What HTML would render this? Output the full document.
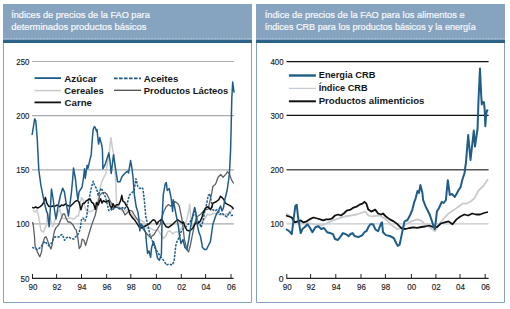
<!DOCTYPE html>
<html><head><meta charset="utf-8"><style>
html,body{margin:0;padding:0;background:#fff;width:510px;height:309px;overflow:hidden}
svg{display:block}
text{font-family:"Liberation Sans", sans-serif}
</style></head><body>
<svg width="510" height="309" viewBox="0 0 510 309">
<rect x="3" y="4" width="249" height="39" fill="#86a3bf"/>
<line x1="4" y1="38.5" x2="252" y2="38.5" stroke="#a8bdd1" stroke-width="1" stroke-dasharray="2,1"/>
<rect x="3" y="42" width="249" height="1" fill="#245a80"/>
<rect x="3" y="40" width="249" height="3" fill="#2e6388"/>
<path d="M3.5,43 V302.5 H251.5 V43" fill="none" stroke="#84a2c4" stroke-width="1"/>
<rect x="256" y="4" width="249" height="39" fill="#86a3bf"/>
<line x1="257" y1="38.5" x2="505" y2="38.5" stroke="#a8bdd1" stroke-width="1" stroke-dasharray="2,1"/>
<rect x="256" y="42" width="249" height="1" fill="#245a80"/>
<rect x="256" y="40" width="249" height="3" fill="#2e6388"/>
<path d="M256.5,43 V302.5 H504.5 V43" fill="none" stroke="#84a2c4" stroke-width="1"/>
<text x="11.200000000000001" y="17.8" font-size="9.2" fill="#f6f8fb" stroke="#f6f8fb" stroke-width="0.22" textLength="138.59999999999997" lengthAdjust="spacingAndGlyphs">Índices de precios de la FAO para</text>
<text x="11.200000000000001" y="30.3" font-size="9.2" fill="#f6f8fb" stroke="#f6f8fb" stroke-width="0.22" textLength="135.2" lengthAdjust="spacingAndGlyphs">determinados productos básicos</text>
<text x="264.7" y="17.8" font-size="9.2" fill="#f6f8fb" stroke="#f6f8fb" stroke-width="0.22" textLength="199.89999999999998" lengthAdjust="spacingAndGlyphs">Índice de precios de la FAO para los alimentos e</text>
<text x="264.7" y="30.3" font-size="9.2" fill="#f6f8fb" stroke="#f6f8fb" stroke-width="0.22" textLength="211.0" lengthAdjust="spacingAndGlyphs">índices CRB para los productos básicos y la energía</text>
<line x1="32" y1="61.5" x2="234" y2="61.5" stroke="#a9abae" stroke-width="1.2"/>
<text x="29.4" y="64.9" font-size="9.3" text-anchor="end" fill="#1a1a1a" stroke="#1a1a1a" stroke-width="0.15" textLength="13.099999999999998" lengthAdjust="spacingAndGlyphs">250</text>
<line x1="32" y1="115.6" x2="234" y2="115.6" stroke="#a9abae" stroke-width="1.2"/>
<text x="29.4" y="119.0" font-size="9.3" text-anchor="end" fill="#1a1a1a" stroke="#1a1a1a" stroke-width="0.15" textLength="13.099999999999998" lengthAdjust="spacingAndGlyphs">200</text>
<line x1="32" y1="169.8" x2="234" y2="169.8" stroke="#a9abae" stroke-width="1.2"/>
<text x="29.4" y="173.2" font-size="9.3" text-anchor="end" fill="#1a1a1a" stroke="#1a1a1a" stroke-width="0.15" textLength="13.099999999999998" lengthAdjust="spacingAndGlyphs">150</text>
<line x1="32" y1="223.9" x2="234" y2="223.9" stroke="#a9abae" stroke-width="1.2"/>
<text x="29.4" y="227.3" font-size="9.3" text-anchor="end" fill="#1a1a1a" stroke="#1a1a1a" stroke-width="0.15" textLength="13.099999999999998" lengthAdjust="spacingAndGlyphs">100</text>
<text x="29.4" y="281.8" font-size="9.3" text-anchor="end" fill="#1a1a1a" stroke="#1a1a1a" stroke-width="0.15" textLength="8.9" lengthAdjust="spacingAndGlyphs">50</text>
<line x1="286.5" y1="61.6" x2="488.6" y2="61.6" stroke="#111" stroke-width="1.3"/>
<text x="283.6" y="65.0" font-size="9.3" text-anchor="end" fill="#1a1a1a" stroke="#1a1a1a" stroke-width="0.15" textLength="13.099999999999998" lengthAdjust="spacingAndGlyphs">400</text>
<line x1="286.5" y1="115.4" x2="488.6" y2="115.4" stroke="#111" stroke-width="1.3"/>
<text x="283.6" y="118.8" font-size="9.3" text-anchor="end" fill="#1a1a1a" stroke="#1a1a1a" stroke-width="0.15" textLength="13.099999999999998" lengthAdjust="spacingAndGlyphs">300</text>
<line x1="286.5" y1="169.7" x2="488.6" y2="169.7" stroke="#555" stroke-width="1.6"/>
<text x="283.6" y="173.1" font-size="9.3" text-anchor="end" fill="#1a1a1a" stroke="#1a1a1a" stroke-width="0.15" textLength="13.099999999999998" lengthAdjust="spacingAndGlyphs">200</text>
<line x1="286.5" y1="223.9" x2="488.6" y2="223.9" stroke="#b4bcc4" stroke-width="1"/>
<text x="283.6" y="227.3" font-size="9.3" text-anchor="end" fill="#1a1a1a" stroke="#1a1a1a" stroke-width="0.15" textLength="13.099999999999998" lengthAdjust="spacingAndGlyphs">100</text>
<text x="283.6" y="281.8" font-size="9.3" text-anchor="end" fill="#1a1a1a" stroke="#1a1a1a" stroke-width="0.15" textLength="4.8" lengthAdjust="spacingAndGlyphs">0</text>
<polyline points="32.7,210.3 35.0,212.0 37.0,210.0 38.6,216.2 39.8,223.2 40.9,230.3 43.3,232.1 45.0,228.0 46.8,225.0 47.4,213.8 50.0,218.0 52.7,226.8 55.0,220.0 57.4,213.8 59.8,209.0 62.0,218.0 66.0,219.0 70.0,218.0 74.0,219.0 77.0,216.0 78.5,216.0 80.3,203.5 81.5,197.6 83.2,200.0 84.4,204.7 85.6,209.4 88.0,212.0 92.0,211.0 96.2,208.2 98.5,197.6 100.3,187.0 102.1,181.2 104.0,177.0 105.9,173.5 107.5,163.0 108.8,158.0 110.0,145.0 110.9,137.6 112.4,148.2 114.1,156.0 115.3,173.5 116.5,201.2 118.0,205.0 121.0,210.0 124.0,212.0 127.0,210.0 130.0,212.0 133.0,216.0 136.0,219.0 140.0,220.0 144.0,222.0 146.2,228.0 149.1,227.9 153.8,230.2 158.0,230.0 163.2,238.5 165.6,236.1 168.0,231.4 170.0,231.0 172.6,233.8 175.0,232.0 179.0,231.8 183.0,225.9 186.0,222.0 188.5,212.0 189.8,204.2 190.6,216.8 192.0,226.0 194.0,224.0 197.0,222.0 200.0,222.0 204.0,220.0 207.5,214.0 210.0,215.0 214.1,213.2 218.0,214.0 220.0,214.4 224.0,215.0 226.0,214.0 229.4,213.2 231.8,210.0 233.5,207.0" fill="none" stroke="#c9cacc" stroke-width="1.5" stroke-linejoin="round"/>
<polyline points="32.5,222.0 33.3,225.0 34.5,236.8 35.1,246.2 36.2,248.5 37.4,252.1 39.8,256.8 41.5,252.1 42.7,243.8 44.5,237.9 46.2,236.8 47.4,240.3 49.2,245.0 50.9,249.1 52.1,245.0 53.3,236.8 54.5,230.9 56.2,227.4 58.6,225.0 61.0,219.0 63.0,214.0 64.5,213.8 66.0,218.0 68.0,222.0 70.0,222.0 72.7,224.4 75.1,229.0 76.2,229.7 78.0,239.1 79.2,248.5 80.9,246.2 82.1,239.1 83.9,240.3 85.6,245.6 87.4,239.1 90.8,227.8 92.7,222.0 95.0,216.0 97.9,203.5 99.7,195.3 102.1,192.9 104.4,192.4 106.8,194.1 109.1,198.8 111.5,203.5 113.8,208.2 116.0,207.0 118.0,208.0 120.0,208.0 122.4,209.4 125.0,215.0 127.0,213.0 129.7,210.3 132.0,211.0 134.4,215.0 136.8,218.5 139.1,222.1 141.0,225.0 143.2,229.0 146.8,233.8 150.3,237.3 153.8,234.9 157.4,229.0 160.3,224.4 161.5,218.5 163.8,211.5 166.2,206.8 168.5,204.4 170.9,206.2 173.0,204.0 175.0,201.5 177.4,203.2 179.1,205.6 180.9,213.8 182.6,223.2 184.4,239.6 186.8,249.0 188.5,252.0 190.3,245.5 192.6,233.8 194.4,225.5 196.0,219.0 198.0,216.0 201.0,214.0 204.5,210.0 208.2,209.1 210.0,200.9 211.8,192.6 212.9,186.2 215.3,184.4 216.1,182.7 218.0,177.3 220.8,174.5 223.1,177.3 225.9,174.1 227.5,171.8 229.4,173.7 231.4,179.6 233.7,183.5" fill="none" stroke="#5d6166" stroke-width="1.3" stroke-linejoin="round"/>
<polyline points="32.1,247.4 35.0,248.5 37.4,249.7 39.8,247.9 41.5,246.0 43.3,243.2 45.1,241.5 46.8,243.8 48.6,245.6 50.4,244.0 52.1,242.6 53.3,239.1 55.1,236.8 57.5,237.0 59.3,236.8 60.9,235.0 62.0,234.5 63.3,236.8 64.5,240.3 66.3,238.0 68.6,236.8 70.9,238.5 73.9,239.1 75.6,236.8 77.4,235.6 79.2,232.1 80.4,227.4 81.4,220.0 83.0,218.0 85.0,221.0 86.8,216.0 88.2,203.5 90.0,194.1 91.8,185.9 93.2,181.2 94.7,185.9 96.5,188.2 98.2,195.3 99.5,192.0 101.2,188.2 102.3,190.0 103.5,194.1 105.3,196.5 107.0,203.5 108.8,210.6 110.5,209.0 112.4,210.6 114.0,208.0 117.6,207.0 119.5,209.0 122.4,207.6 124.5,209.0 127.0,204.7 128.5,198.5 129.4,195.3 131.8,192.9 134.1,190.6 135.9,178.7 137.0,183.0 137.8,186.6 139.8,188.5 141.8,187.5 142.8,188.5 143.7,194.4 144.7,204.2 145.7,216.0 147.4,223.2 150.0,235.0 155.0,248.0 160.0,256.0 164.3,261.2 166.3,265.0 169.0,264.0 172.2,265.0 174.1,261.2 175.1,251.4 176.2,243.2 179.1,237.3 181.0,232.0 183.0,229.0 187.0,226.0 190.0,222.0 193.0,217.0 195.0,210.0 197.0,220.0 199.0,222.0 201.2,227.4 202.9,221.5 205.0,210.0 206.5,204.4 208.2,195.6 210.0,193.8 211.0,200.0 212.9,209.7 215.0,211.0 217.0,209.5 220.0,214.4 222.0,213.0 224.7,215.6 227.1,216.8 229.4,212.1 231.8,215.6 234.1,214.4" fill="none" stroke="#1f5d88" stroke-width="1.5" stroke-dasharray="2.4,1.2" stroke-linejoin="round"/>
<polyline points="32.1,207.4 34.0,208.0 35.6,206.8 37.5,208.0 39.8,206.8 42.1,205.0 43.9,202.1 45.4,197.4 46.8,203.2 48.6,206.2 50.4,206.8 52.5,206.0 55.0,206.2 57.4,205.0 59.8,206.8 61.5,205.0 63.3,205.6 65.6,203.8 67.5,205.5 70.4,206.2 72.7,204.0 75.1,201.5 77.4,200.3 79.0,202.0 80.9,209.7 82.7,203.8 84.5,203.0 85.9,201.2 88.0,200.0 90.0,198.8 91.8,202.4 93.5,203.5 95.3,209.4 96.5,202.4 98.2,205.0 99.4,201.8 100.6,198.8 102.0,203.0 103.5,200.6 105.3,202.0 107.0,201.2 108.8,200.6 110.0,205.9 111.8,208.2 113.0,203.5 114.7,207.0 116.5,204.7 118.8,204.7 120.6,200.6 121.8,195.3 122.9,201.2 124.7,202.4 126.5,205.9 128.2,208.2 129.7,213.8 132.1,217.4 134.4,219.7 136.8,223.2 139.1,226.8 141.5,227.9 143.8,226.8 146.0,225.5 148.5,224.4 150.9,222.1 153.2,219.7 155.0,220.5 156.8,224.4 158.5,221.5 160.3,220.3 162.0,219.5 163.8,223.2 166.2,226.8 168.5,227.4 170.9,225.6 173.2,223.8 175.5,221.5 177.9,219.7 180.0,221.5 182.6,223.2 183.5,222.0 185.3,227.4 187.1,230.3 189.4,230.9 191.2,229.7 192.9,227.9 194.7,224.4 196.5,222.6 198.0,223.5 200.0,221.5 201.8,217.9 203.5,212.0 205.3,208.5 207.1,206.8 208.8,207.5 210.6,209.7 212.4,205.0 212.9,203.2 214.5,202.5 216.5,201.5 218.8,199.7 220.6,196.2 222.4,197.9 224.1,199.7 225.3,203.2 227.6,204.4 230.0,205.6 231.8,206.8 233.5,209.1" fill="none" stroke="#111" stroke-width="1.5" stroke-linejoin="round"/>
<polyline points="32.1,135.0 34.7,118.8 35.8,120.8 37.3,140.0 38.8,170.0 40.8,184.6 42.7,194.4 44.7,204.0 46.7,212.0 47.4,212.6 49.2,226.8 51.5,189.0 53.0,198.0 54.5,210.0 56.0,219.0 58.0,207.0 60.3,196.0 62.6,188.2 64.4,191.8 66.2,203.5 68.5,216.0 71.5,191.8 72.6,180.0 73.5,168.0 75.6,180.0 76.8,191.8 77.9,200.0 79.1,191.8 82.1,187.0 83.2,180.0 84.5,168.8 85.3,178.2 87.1,165.3 88.0,168.2 90.0,159.4 91.2,154.7 92.4,137.6 93.2,129.4 94.4,126.5 95.5,128.2 96.5,131.2 97.0,129.4 97.6,135.3 98.6,144.1 99.8,137.6 100.6,141.2 101.4,143.5 102.4,149.4 102.9,168.8 105.3,164.1 108.8,153.0 110.0,160.6 111.2,173.5 112.4,164.1 113.5,154.7 114.7,163.0 116.5,174.7 117.6,181.8 120.0,181.8 121.8,177.0 123.5,174.7 125.9,172.4 127.6,171.2 128.5,173.0 130.6,160.6 131.8,167.6 133.0,176.8 134.3,194.4 136.2,206.8 137.9,212.1 138.8,218.0 139.8,230.8 141.0,224.0 143.0,226.0 145.7,232.7 146.7,245.5 147.6,253.3 149.0,251.0 150.6,257.3 151.6,247.5 153.5,241.6 155.5,248.0 157.5,258.2 159.4,260.2 161.4,254.3 162.1,218.5 163.3,194.4 165.3,183.6 166.3,182.6 167.3,190.5 169.2,188.5 171.2,198.3 172.6,211.5 173.2,199.7 176.8,218.5 178.5,226.8 179.5,235.7 181.0,243.5 183.0,239.6 184.9,247.5 186.9,249.4 188.8,239.6 190.8,225.9 191.8,220.3 193.5,212.1 194.7,207.4 195.9,213.2 197.1,223.8 198.8,232.1 200.6,236.8 202.5,247.5 204.5,249.4 206.5,249.5 208.4,245.5 210.4,241.6 211.8,232.0 212.9,224.0 214.0,221.0 215.3,217.0 216.5,214.0 217.6,212.1 218.5,212.0 219.4,208.5 220.6,206.0 222.0,211.0 223.5,208.0 224.5,201.0 227.2,190.0 229.4,174.0 230.6,150.0 231.2,125.0 231.8,98.5 232.7,82.0 234.1,92.6" fill="none" stroke="#1f5d88" stroke-width="1.5" stroke-linejoin="round"/>
<polyline points="286.0,213.5 290.0,216.0 293.8,221.4 297.5,222.5 303.6,223.3 309.0,223.3 315.4,224.3 321.3,225.3 327.1,223.3 333.0,220.4 338.9,218.4 344.8,216.5 350.7,215.5 356.5,214.5 362.4,212.5 365.4,211.6 368.3,215.5 372.0,216.5 378.1,215.5 380.0,215.5 385.9,219.4 391.8,225.3 397.6,229.2 401.5,228.2 405.5,224.3 411.4,221.4 417.3,219.4 421.0,220.4 425.1,224.3 431.0,228.2 434.9,231.2 438.8,224.3 444.7,217.5 448.6,213.5 454.5,209.6 458.4,206.7 462.4,203.7 466.3,203.7 470.2,201.8 472.4,200.0 474.1,198.8 478.2,191.0 484.1,185.1 488.0,179.2" fill="none" stroke="#c8cbce" stroke-width="1.8" stroke-linejoin="round"/>
<polyline points="286.0,215.5 288.9,216.5 291.8,217.5 294.8,222.4 297.7,221.4 300.7,220.4 303.6,222.4 306.5,221.4 309.5,219.4 313.4,217.5 317.3,218.5 320.3,219.4 323.2,220.4 326.2,219.4 329.1,219.4 332.0,218.5 335.0,215.5 338.0,214.5 340.9,215.5 343.8,213.5 346.7,210.6 350.7,209.6 353.6,207.6 356.5,206.7 359.5,204.7 362.4,203.7 364.4,201.8 366.4,203.7 368.3,209.6 371.3,211.6 375.2,209.6 378.1,213.5 381.0,214.5 383.0,213.5 385.9,216.5 389.8,219.4 393.7,221.4 397.6,224.3 401.6,228.3 405.5,229.0 409.4,228.0 413.3,227.3 417.3,227.8 421.2,227.0 425.1,226.5 429.0,225.5 433.0,226.8 437.0,227.2 440.8,223.5 444.7,222.4 448.6,221.4 452.5,224.3 456.5,219.4 460.4,216.5 464.3,214.5 468.2,215.5 472.2,213.5 476.0,214.5 480.0,214.5 484.0,213.0 488.0,212.0" fill="none" stroke="#111" stroke-width="1.8" stroke-linejoin="round"/>
<polyline points="286.0,229.2 289.0,231.0 291.8,234.1 293.8,217.5 295.4,205.7 296.7,204.7 298.1,217.5 300.7,233.1 302.5,229.0 304.6,227.3 307.5,224.3 309.5,227.0 312.4,232.2 315.4,227.3 318.3,226.3 321.3,229.0 324.0,228.0 327.1,232.2 330.0,233.0 333.0,234.1 335.0,239.0 337.9,240.0 340.9,236.1 342.8,233.1 345.5,234.0 348.7,236.1 350.5,234.0 352.6,233.1 354.5,236.0 358.5,237.1 362.4,235.1 364.4,232.2 366.4,231.2 368.3,227.3 370.3,224.3 373.2,224.3 375.2,229.2 378.1,231.2 381.1,223.3 382.0,222.4 383.0,232.2 385.9,235.1 389.8,236.0 393.7,238.0 395.7,242.0 397.6,245.9 399.6,244.9 401.6,235.1 404.5,221.4 407.5,220.0 410.4,214.5 412.4,209.6 414.3,201.8 415.5,198.8 417.5,191.0 419.0,193.0 420.4,185.1 422.4,193.0 423.1,199.8 426.1,207.6 428.0,211.0 430.0,215.5 432.0,221.4 433.9,227.3 434.9,229.2 436.9,211.6 439.0,208.0 441.8,201.8 443.7,203.0 445.9,200.0 447.8,180.2 449.8,194.9 452.0,194.0 454.7,196.9 456.5,194.0 458.6,190.0 460.6,187.1 462.5,179.2 464.5,173.3 465.5,165.5 465.9,163.3 468.2,135.0 470.5,160.0 473.8,130.6 475.0,146.6 477.6,128.0 478.5,100.0 480.0,68.5 481.2,95.0 481.8,104.4 482.9,102.0 484.0,102.5 484.7,110.3 485.3,126.2 486.2,113.8 487.1,110.3 488.2,110.9" fill="none" stroke="#1f5d88" stroke-width="2" stroke-linejoin="round"/>
<line x1="32" y1="278.3" x2="233.6" y2="278.3" stroke="#222" stroke-width="1.3"/>
<line x1="286.3" y1="278.3" x2="488.6" y2="278.3" stroke="#222" stroke-width="1.3"/>
<line x1="32.5" y1="274" x2="32.5" y2="278" stroke="#222" stroke-width="1"/>
<text x="32.9" y="290.4" font-size="9.3" text-anchor="middle" fill="#1a1a1a" stroke="#1a1a1a" stroke-width="0.15" textLength="8.9" lengthAdjust="spacingAndGlyphs">90</text>
<line x1="56.6" y1="274" x2="56.6" y2="278" stroke="#222" stroke-width="1"/>
<text x="57.0" y="290.4" font-size="9.3" text-anchor="middle" fill="#1a1a1a" stroke="#1a1a1a" stroke-width="0.15" textLength="8.9" lengthAdjust="spacingAndGlyphs">92</text>
<line x1="81.5" y1="274" x2="81.5" y2="278" stroke="#222" stroke-width="1"/>
<text x="81.9" y="290.4" font-size="9.3" text-anchor="middle" fill="#1a1a1a" stroke="#1a1a1a" stroke-width="0.15" textLength="8.9" lengthAdjust="spacingAndGlyphs">94</text>
<line x1="106.6" y1="274" x2="106.6" y2="278" stroke="#222" stroke-width="1"/>
<text x="107.0" y="290.4" font-size="9.3" text-anchor="middle" fill="#1a1a1a" stroke="#1a1a1a" stroke-width="0.15" textLength="8.9" lengthAdjust="spacingAndGlyphs">96</text>
<line x1="130.8" y1="274" x2="130.8" y2="278" stroke="#222" stroke-width="1"/>
<text x="131.20000000000002" y="290.4" font-size="9.3" text-anchor="middle" fill="#1a1a1a" stroke="#1a1a1a" stroke-width="0.15" textLength="8.9" lengthAdjust="spacingAndGlyphs">98</text>
<line x1="156.4" y1="274" x2="156.4" y2="278" stroke="#222" stroke-width="1"/>
<text x="156.8" y="290.4" font-size="9.3" text-anchor="middle" fill="#1a1a1a" stroke="#1a1a1a" stroke-width="0.15" textLength="8.9" lengthAdjust="spacingAndGlyphs">00</text>
<line x1="181.3" y1="274" x2="181.3" y2="278" stroke="#222" stroke-width="1"/>
<text x="181.70000000000002" y="290.4" font-size="9.3" text-anchor="middle" fill="#1a1a1a" stroke="#1a1a1a" stroke-width="0.15" textLength="8.9" lengthAdjust="spacingAndGlyphs">02</text>
<line x1="205.6" y1="274" x2="205.6" y2="278" stroke="#222" stroke-width="1"/>
<text x="206.0" y="290.4" font-size="9.3" text-anchor="middle" fill="#1a1a1a" stroke="#1a1a1a" stroke-width="0.15" textLength="8.9" lengthAdjust="spacingAndGlyphs">04</text>
<line x1="231.0" y1="274" x2="231.0" y2="278" stroke="#222" stroke-width="1"/>
<text x="231.4" y="290.4" font-size="9.3" text-anchor="middle" fill="#1a1a1a" stroke="#1a1a1a" stroke-width="0.15" textLength="8.9" lengthAdjust="spacingAndGlyphs">06</text>
<line x1="286.8" y1="274" x2="286.8" y2="278" stroke="#222" stroke-width="1"/>
<text x="287.2" y="290.4" font-size="9.3" text-anchor="middle" fill="#1a1a1a" stroke="#1a1a1a" stroke-width="0.15" textLength="8.9" lengthAdjust="spacingAndGlyphs">90</text>
<line x1="310.6" y1="274" x2="310.6" y2="278" stroke="#222" stroke-width="1"/>
<text x="311.0" y="290.4" font-size="9.3" text-anchor="middle" fill="#1a1a1a" stroke="#1a1a1a" stroke-width="0.15" textLength="8.9" lengthAdjust="spacingAndGlyphs">92</text>
<line x1="335.8" y1="274" x2="335.8" y2="278" stroke="#222" stroke-width="1"/>
<text x="336.2" y="290.4" font-size="9.3" text-anchor="middle" fill="#1a1a1a" stroke="#1a1a1a" stroke-width="0.15" textLength="8.9" lengthAdjust="spacingAndGlyphs">94</text>
<line x1="361.0" y1="274" x2="361.0" y2="278" stroke="#222" stroke-width="1"/>
<text x="361.4" y="290.4" font-size="9.3" text-anchor="middle" fill="#1a1a1a" stroke="#1a1a1a" stroke-width="0.15" textLength="8.9" lengthAdjust="spacingAndGlyphs">96</text>
<line x1="385.4" y1="274" x2="385.4" y2="278" stroke="#222" stroke-width="1"/>
<text x="385.79999999999995" y="290.4" font-size="9.3" text-anchor="middle" fill="#1a1a1a" stroke="#1a1a1a" stroke-width="0.15" textLength="8.9" lengthAdjust="spacingAndGlyphs">98</text>
<line x1="411.4" y1="274" x2="411.4" y2="278" stroke="#222" stroke-width="1"/>
<text x="411.79999999999995" y="290.4" font-size="9.3" text-anchor="middle" fill="#1a1a1a" stroke="#1a1a1a" stroke-width="0.15" textLength="8.9" lengthAdjust="spacingAndGlyphs">00</text>
<line x1="435.9" y1="274" x2="435.9" y2="278" stroke="#222" stroke-width="1"/>
<text x="436.29999999999995" y="290.4" font-size="9.3" text-anchor="middle" fill="#1a1a1a" stroke="#1a1a1a" stroke-width="0.15" textLength="8.9" lengthAdjust="spacingAndGlyphs">02</text>
<line x1="460.0" y1="274" x2="460.0" y2="278" stroke="#222" stroke-width="1"/>
<text x="460.4" y="290.4" font-size="9.3" text-anchor="middle" fill="#1a1a1a" stroke="#1a1a1a" stroke-width="0.15" textLength="8.9" lengthAdjust="spacingAndGlyphs">04</text>
<line x1="485.2" y1="274" x2="485.2" y2="278" stroke="#222" stroke-width="1"/>
<text x="485.59999999999997" y="290.4" font-size="9.3" text-anchor="middle" fill="#1a1a1a" stroke="#1a1a1a" stroke-width="0.15" textLength="8.9" lengthAdjust="spacingAndGlyphs">06</text>
<line x1="34.5" y1="78.1" x2="61" y2="78.1" stroke="#1f5d88" stroke-width="1.8"/>
<text x="64.30000000000001" y="81.6" font-size="9.6" font-weight="bold" fill="#151515" textLength="32.599999999999994" lengthAdjust="spacingAndGlyphs">Azúcar</text>
<line x1="34.5" y1="90.6" x2="61" y2="90.6" stroke="#c9cacc" stroke-width="1.5"/>
<text x="64.30000000000001" y="93.5" font-size="9.6" font-weight="bold" fill="#151515" textLength="39.39999999999999" lengthAdjust="spacingAndGlyphs">Cereales</text>
<line x1="34.5" y1="102.4" x2="61" y2="102.4" stroke="#111" stroke-width="1.8"/>
<text x="64.60000000000001" y="105.8" font-size="9.6" font-weight="bold" fill="#151515" textLength="27.400000000000002" lengthAdjust="spacingAndGlyphs">Carne</text>
<line x1="114" y1="78.3" x2="141" y2="78.3" stroke="#1f5d88" stroke-width="1.8" stroke-dasharray="3.6,1.4"/>
<text x="143.8" y="81.6" font-size="9.6" font-weight="bold" fill="#151515" textLength="34.499999999999986" lengthAdjust="spacingAndGlyphs">Aceites</text>
<line x1="114" y1="90.3" x2="141" y2="90.3" stroke="#4a4e54" stroke-width="1.3"/>
<text x="143.8" y="93.5" font-size="9.6" font-weight="bold" fill="#151515" textLength="84.49999999999999" lengthAdjust="spacingAndGlyphs">Productos Lácteos</text>
<line x1="288.9" y1="75.5" x2="315.9" y2="75.5" stroke="#1f5d88" stroke-width="2.4"/>
<text x="318.7" y="78" font-size="9.6" font-weight="bold" fill="#151515" textLength="56.7" lengthAdjust="spacingAndGlyphs">Energia CRB</text>
<line x1="288.9" y1="88.4" x2="315.9" y2="88.4" stroke="#c5ccd5" stroke-width="1.3"/>
<text x="318.7" y="91" font-size="9.6" font-weight="bold" fill="#151515" textLength="48.89999999999999" lengthAdjust="spacingAndGlyphs">Índice CRB</text>
<line x1="288.9" y1="101.3" x2="315.9" y2="101.3" stroke="#111" stroke-width="2"/>
<text x="318.7" y="103.9" font-size="9.6" font-weight="bold" fill="#151515" textLength="105.7" lengthAdjust="spacingAndGlyphs">Productos alimenticios</text>
</svg>
</body></html>
